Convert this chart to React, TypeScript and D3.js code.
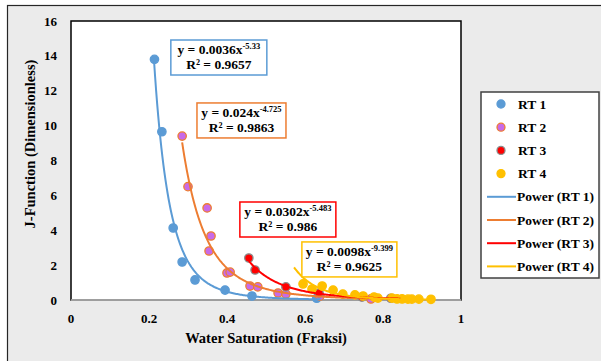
import React from 'react';
import * as d3 from 'd3';

// series names
const seriesNames = ['RT 1', 'RT 2', 'RT 3', 'RT 4'];

// water saturation (fraksi) and J-function per rock type
const rt1X = [0.214, 0.233, 0.262, 0.285, 0.318, 0.395, 0.464, 0.63];
const rt1Y = [13.8, 9.65, 4.13, 2.18, 1.15, 0.57, 0.23, 0.1];
const rt2X = [0.285, 0.3, 0.349, 0.359, 0.354, 0.4, 0.408, 0.459, 0.479, 0.531, 0.551, 0.638, 0.769];
const rt2Y = [9.4, 6.5, 5.28, 3.67, 2.81, 1.55, 1.6, 0.8, 0.75, 0.4, 0.34, 0.22, 0.06];
const rt3X = [0.456, 0.472, 0.551, 0.636, 0.746, 0.82];
const rt3Y = [2.41, 1.72, 0.75, 0.4, 0.17, 0.1];
const rt4X = [0.595, 0.618, 0.644, 0.672, 0.697, 0.728, 0.749, 0.777, 0.787, 0.823, 0.836, 0.849, 0.864, 0.874, 0.892, 0.923];
const rt4Y = [0.92, 0.63, 0.8, 0.57, 0.34, 0.29, 0.23, 0.17, 0.11, 0.11, 0.06, 0.06, 0.05, 0.05, 0.05, 0.04];

// power trendlines y = a * x^b
const fitCoef = [0.0036, 0.024, 0.0302, 0.0098];
const fitExp = [-5.33, -4.725, -5.483, -9.399];
const fitR2 = [0.9657, 0.9863, 0.986, 0.9625];
const fitFrom = [0.213, 0.285, 0.456, 0.572];
const fitTo = [0.64, 0.77, 0.845, 0.923];

// where each equation label sits (data coords, top-left)
const labelX = [0.256, 0.323, 0.433, 0.592];
const labelY = [14.91, 11.3, 5.62, 3.33];
const labelW = [96, 89, 96, 95];

const xTicks = [0, 0.2, 0.4, 0.6, 0.8, 1];
const yTicks = [0, 2, 4, 6, 8, 10, 12, 14, 16];

const lineColors = ['#5b9bd5', '#ed7d31', '#ff0000', '#ffc000'];
const markerFill = ['#5b9bd5', '#c86ae8', '#ff0000', '#ffc000'];
const markerStroke = ['#5b9bd5', '#ed7d31', '#8c8c8c', '#ffc000'];

const FONT = '"Liberation Serif", "Times New Roman", serif';

export default function App() {
  const width = 601;
  const height = 361;
  const plot = { left: 71, right: 461, top: 21, bottom: 300 };

  const x = d3.scaleLinear().domain([0, 1]).range([plot.left, plot.right]);
  const y = d3.scaleLinear().domain([0, 16]).range([plot.bottom, plot.top]);

  const xs = [rt1X, rt2X, rt3X, rt4X];
  const ys = [rt1Y, rt2Y, rt3Y, rt4Y];

  const line = d3.line<[number, number]>().x(d => x(d[0])).y(d => y(d[1]));
  const trendPath = (i: number) => {
    const pts: [number, number][] = d3.range(0, 161).map(k => {
      const sx = fitFrom[i] + (fitTo[i] - fitFrom[i]) * k / 160;
      return [sx, fitCoef[i] * Math.pow(sx, fitExp[i])];
    });
    return line(pts) || '';
  };

  const legendTop = 92;
  const legendStep = 23.2;

  return (
    <svg width={width} height={height} style={{ position: 'absolute', left: 0, top: 0 }} fontFamily={FONT} fontWeight="bold">
      <rect x={0} y={0} width={width} height={height} fill="#ffffff" />
      <rect x={7.5} y={5.5} width={width} height={height} fill="#ebebeb" stroke="#262626" strokeWidth={1.2} />

      {/* plot area */}
      <rect x={plot.left} y={plot.top} width={plot.right - plot.left} height={plot.bottom - plot.top} fill="#ffffff" stroke="#000" strokeWidth={1.5} />
      <line x1={plot.left} x2={plot.right} y1={plot.bottom} y2={plot.bottom} stroke="#bfbfbf" strokeWidth={1.5} />

      {yTicks.map(t => (
        <text key={'y' + t} x={57} y={y(t)} dy={4.5} textAnchor="end" fontSize={13} fill="#000">{t}</text>
      ))}
      {xTicks.map(t => (
        <text key={'x' + t} x={x(t)} y={323} textAnchor="middle" fontSize={13} fill="#000">{t}</text>
      ))}

      <text x={266} y={343} textAnchor="middle" fontSize={14.5} fill="#000">Water Saturation (Fraksi)</text>
      <text transform={`translate(35,${144}) rotate(-90)`} textAnchor="middle" fontSize={14.5} fill="#000">J-Function (Dimensionless)</text>

      {/* markers */}
      {xs.map((sx, i) => (
        <g key={'m' + i}>
          {sx.map((v, j) => (
            <circle key={j} cx={x(v)} cy={y(ys[i][j])} r={4.2} fill={markerFill[i]} stroke={markerStroke[i]} strokeWidth={1.3} />
          ))}
        </g>
      ))}

      {/* trendlines */}
      {fitCoef.map((_, i) => (
        <path key={'t' + i} d={trendPath(i)} fill="none" stroke={lineColors[i]} strokeWidth={2} />
      ))}

      {/* equation labels */}
      {fitCoef.map((a, i) => {
        const bx = x(labelX[i]);
        const by = y(labelY[i]);
        const cx = bx + labelW[i] / 2;
        return (
          <g key={'l' + i}>
            <rect x={bx} y={by} width={labelW[i]} height={35} fill="#ffffff" stroke={lineColors[i]} strokeWidth={1.5} />
            <text x={cx} y={by + 14} textAnchor="middle" fontSize={13.5} fill="#000">
              {`y = ${a}x`}
              <tspan dy={-5} fontSize={8.5}>{String(fitExp[i])}</tspan>
            </text>
            <text x={cx} y={by + 29} textAnchor="middle" fontSize={13.5} fill="#000">{`R² = ${fitR2[i]}`}</text>
          </g>
        );
      })}

      {/* legend */}
      <rect x={481} y={legendTop} width={118} height={186} fill="#ffffff" stroke="#404040" strokeWidth={1.5} />
      {seriesNames.map((n, i) => {
        const ly = legendTop + 12 + i * legendStep;
        return (
          <g key={'lg' + i}>
            <circle cx={501} cy={ly} r={4} fill={markerFill[i]} stroke={markerStroke[i]} strokeWidth={1.3} />
            <text x={518} y={ly} dy={4.5} fontSize={13.5} fill="#000">{n}</text>
          </g>
        );
      })}
      {seriesNames.map((n, i) => {
        const ly = legendTop + 12 + (i + 4) * legendStep;
        return (
          <g key={'lp' + i}>
            <line x1={487} x2={516} y1={ly} y2={ly} stroke={lineColors[i]} strokeWidth={2} />
            <text x={517} y={ly} dy={4.5} fontSize={13.5} fill="#000">{`Power (${n})`}</text>
          </g>
        );
      })}
    </svg>
  );
}
